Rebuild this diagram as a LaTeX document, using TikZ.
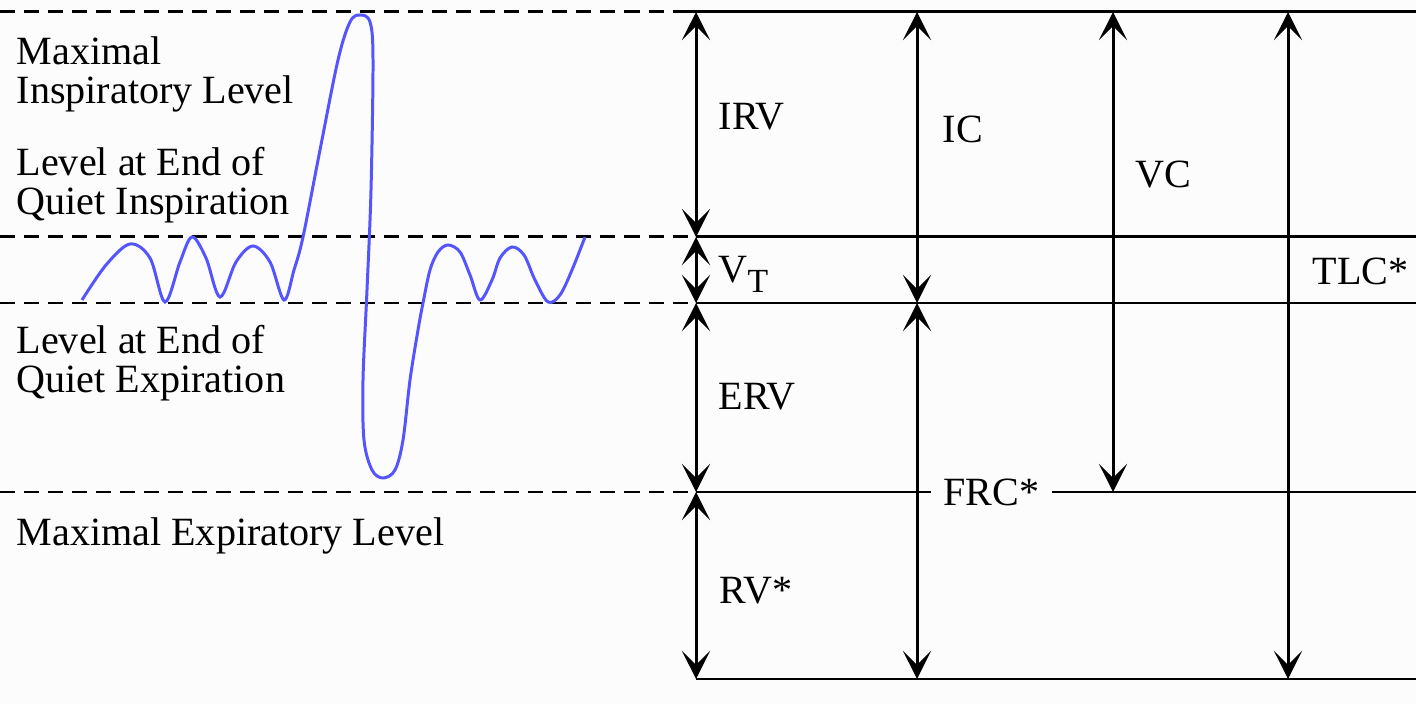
\documentclass[tikz,border=0pt]{standalone}
\usepackage{fontspec}
\setmainfont{Liberation Serif}
\usetikzlibrary{arrows.meta}
\definecolor{trace}{HTML}{5555FF}
\definecolor{paper}{HTML}{FCFCFC}

\begin{document}
\begin{tikzpicture}[
    x=0.01cm, y=-0.01cm,
    font=\fontsize{11.4}{11.1}\selectfont,
    lab/.style={anchor=base west, inner sep=0pt, align=left},
    lvdash/.style={line width=0.85pt, dash pattern=on 4.27pt off 2.56pt},
    lvline/.style={line width=0.85pt},
    vol/.style={line width=0.85pt,
        {Stealth[length=8pt,width=8pt,inset=4pt]}-{Stealth[length=8pt,width=8pt,inset=4pt]}},
]
% picture is laid out in pixels: x to the right, y downwards
\fill[paper] (0,0) rectangle (1416,704);
\useasboundingbox (0,0) rectangle (1416,704);

% lung volume levels
\coordinate (lvMax) at (0,12);
\coordinate (lvInsp) at (0,237);
\coordinate (lvExp) at (0,303);
\coordinate (lvRes) at (0,492);
\coordinate (lvBot) at (0,679);

% columns of the volume arrows
\coordinate (colA) at (696,0);
\coordinate (colB) at (917,0);
\coordinate (colC) at (1113,0);
\coordinate (colD) at (1288,0);
\coordinate (rEnd) at (1416,0);

% dashed levels left of the table
\draw[lvdash] (lvMax) -- (colA |- lvMax);
\draw[lvdash] (lvInsp) -- (colA |- lvInsp);
\draw[lvdash] (lvExp) -- (colA |- lvExp);
\draw[lvdash] (lvRes) -- (colA |- lvRes);

% spirometer trace
\draw[trace, line width=0.85pt] plot[smooth, tension=0.55] coordinates {
    (82,300) (106,265) (130,244) (150,258) (165,302) (180,262) (192,237)
    (206,258) (220,297) (236,262) (253,246) (270,262) (284,300) (294,270)
    (303,237) (320,150) (338,60) (350,22) (360,15) (370,22) (373,60)
    (371,190) (367,290) (363,380) (364,440) (372,470) (383,478) (395,470)
    (403,440) (410,380) (418,330) (423,303) (430,270) (438,252) (448,245)
    (460,252) (470,275) (480,300) (492,280) (500,258) (512,247) (524,255)
    (535,280) (548,302) (560,295) (572,270) (585,237)};

% level labels (base = last line)
\node[lab] (maxInsp) at (16,104) {Maximal\\Inspiratory Level};
\node[lab] (quietInsp) at (16,215) {Level at End of\\Quiet Inspiration};
\node[lab] (quietExp) at (16,393) {Level at End of\\Quiet Expiration};
\node[lab] (maxExp) at (16,545) {Maximal Expiratory Level};

% volume labels
\node[lab] (irv) at (718,130) {IRV};
\node[lab] (ic) at (942,143) {IC};
\node[lab] (vc) at (1135,188) {VC};
\node[lab] (vt) at (718,283) {V\raisebox{-2.8pt}{\fontsize{9.6}{9.6}\selectfont T}};
\node[lab] (tlc) at (1312,285) {TLC*};
\node[lab] (erv) at (718,410) {ERV};
\node[lab, inner xsep=3.4pt] (frc) at (931,505) {FRC*};
\node[lab] (rv) at (719,603) {RV*};

% solid levels of the table
\draw[lvline] (676,12) -- (rEnd |- lvMax);
\draw[lvline] (colA |- lvInsp) -- (rEnd |- lvInsp);
\draw[lvline] (colA |- lvExp) -- (rEnd |- lvExp);
\draw[lvline] (colA |- lvRes) -- (frc.west |- lvRes);
\draw[lvline] (frc.east |- lvRes) -- (rEnd |- lvRes);
\draw[lvline] (colA |- lvBot) -- (rEnd |- lvBot);

% volumes
\draw[vol] (colA |- lvInsp) -- (colA |- lvMax);
\draw[vol] (colA |- lvExp) -- (colA |- lvInsp);
\draw[vol] (colA |- lvRes) -- (colA |- lvExp);
\draw[vol] (colA |- lvBot) -- (colA |- lvRes);
\draw[vol] (colB |- lvExp) -- (colB |- lvMax);
\draw[vol] (colB |- lvBot) -- (colB |- lvExp);
\draw[vol] (colC |- lvRes) -- (colC |- lvMax);
\draw[vol] (colD |- lvBot) -- (colD |- lvMax);

\end{tikzpicture}
\end{document}
